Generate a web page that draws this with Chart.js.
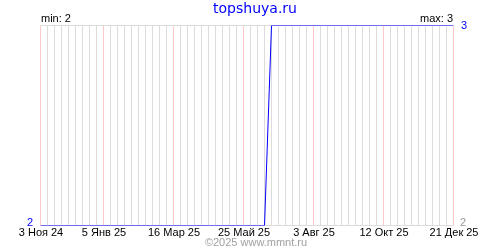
<!DOCTYPE html>
<html>
<head>
<meta charset="utf-8">
<script src="https://cdn.jsdelivr.net/npm/chart.js@4"></script>
<style>
html,body{margin:0;padding:0;background:#fff;}
#wrap{width:500px;height:250px;position:relative;}
</style>
</head>
<body>
<div id="wrap"><canvas id="c" width="500" height="250"></canvas></div>
<script>
// Data (weekly points, week index from 3 Nov 2024)
const weeks = [];
for (let i = 0; i <= 59; i++) weeks.push(i);
const values = [
  2,2,2,2,2,2,2,2,2,2,
  2,2,2,2,2,2,2,2,2,2,
  2,2,2,2,2,2,2,2,2,2,
  2,2,2,3,3,3,3,3,3,3,
  3,3,3,3,3,3,3,3,3,3,
  3,3,3,3,3,3,3,3,3,3
];
const tickWeeks = [0, 9, 19, 29, 39, 49, 59];
const tickLabels = ['3 Ноя 24', '5 Янв 25', '16 Мар 25', '25 Май 25', '3 Авг 25', '12 Окт 25', '21 Дек 25'];
const titleText = 'topshuya.ru';
const footerText = '©2025 www.mmnt.ru';
const minLabel = 'min: 2';
const maxLabel = 'max: 3';
const yMin = 2, yMax = 3;

const FONT = '"Liberation Sans", Arial, sans-serif';

const textPlugin = {
  id: 'texts',
  afterDraw(chart) {
    const ctx = chart.ctx;
    const xs = chart.scales.x, ys = chart.scales.y;
    const a = chart.chartArea;
    ctx.save();
    // title
    ctx.font = '14px "DejaVu Sans", sans-serif';
    ctx.fillStyle = '#0000ff';
    ctx.textAlign = 'center';
    ctx.textBaseline = 'middle';
    ctx.fillText(titleText, 255, 9);
    // min / max
    ctx.font = '11px ' + FONT;
    ctx.fillStyle = '#000';
    ctx.textBaseline = 'alphabetic';
    ctx.textAlign = 'left';
    ctx.fillText(minLabel, 41, 22);
    ctx.textAlign = 'right';
    ctx.fillText(maxLabel, 453, 22);
    // x tick labels
    ctx.textAlign = 'center';
    ctx.textBaseline = 'top';
    ctx.fillStyle = '#000';
    tickWeeks.forEach((w, i) => {
      ctx.fillText(tickLabels[i], Math.round(xs.getPixelForValue(w)), 227);
    });
    // y labels
    ctx.textBaseline = 'middle';
    ctx.textAlign = 'right';
    ctx.fillStyle = '#0000ff';
    ctx.fillText(String(yMin), 33, ys.getPixelForValue(yMin) - 3);
    ctx.textAlign = 'left';
    ctx.fillText(String(yMax), 461, ys.getPixelForValue(yMax));
    ctx.fillStyle = '#999';
    ctx.fillText(String(yMin), 460, ys.getPixelForValue(yMin) - 3);
    // footer
    ctx.textAlign = 'center';
    ctx.textBaseline = 'middle';
    ctx.fillStyle = '#a0a0a0';
    ctx.font = '11px ' + FONT;
    ctx.fillText(footerText, 256, 243);
    ctx.restore();
  }
};

new Chart(document.getElementById('c'), {
  type: 'line',
  data: {
    labels: weeks,
    datasets: [{
      data: weeks.map((w, i) => ({x: w, y: values[i]})),
      borderColor: '#0000ff',
      borderWidth: 1,
      pointRadius: 0,
      tension: 0,
      fill: false
    }]
  },
  options: {
    responsive: false,
    animation: false,
    events: [],
    layout: {padding: {left: 40.5, right: 46.5, top: 25.5, bottom: 24.5}},
    plugins: {legend: {display: false}, tooltip: {enabled: false}, title: {display: false}},
    scales: {
      x: {
        type: 'linear', min: 0, max: 59,
        ticks: {display: false, stepSize: 1, autoSkip: false},
        border: {display: false},
        grid: {
          drawTicks: false,
          lineWidth: 1,
          color: (c) => {
            const v = c.tick ? c.tick.value : 0;
            return tickWeeks.includes(v) ? '#ffc8c8' : '#dcdcdc';
          }
        }
      },
      y: {
        min: yMin, max: yMax,
        ticks: {display: false, stepSize: 1},
        border: {display: false},
        grid: {drawTicks: false, color: '#dcdcdc', lineWidth: 1}
      }
    }
  },
  plugins: [textPlugin]
});
</script>
</body>
</html>
